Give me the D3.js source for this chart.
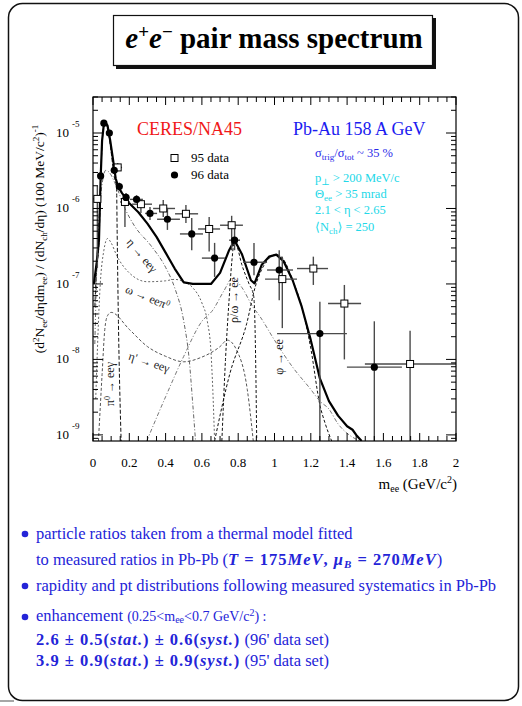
<!DOCTYPE html>
<html>
<head>
<meta charset="utf-8">
<script src="https://cdn.jsdelivr.net/npm/d3@7"></script>
<style>
body { margin: 0; background: #fff; }
svg { display: block; font-family: "Liberation Serif", "DejaVu Serif", serif; }
</style>
</head>
<body>
<svg id="chart" width="522" height="706"></svg>
<script>
// ---- data (mass in GeV/c^2, yield per 100 MeV/c^2) ----
// measured points: [mass, value, massLo, massHi, valueLo, valueHi]
const data96 = [
  [0.042, 2.7e-6, 0.038, 0.046, 2.4e-6, 3.0e-6],
  [0.06, 1.35e-5, 0.056, 0.064, 1.25e-5, 1.45e-5],
  [0.09, 1.0e-5, 0.086, 0.094, 9.3e-6, 1.08e-5],
  [0.117, 3.2e-6, 0.11, 0.124, 2.9e-6, 3.5e-6],
  [0.145, 1.95e-6, 0.135, 0.155, 1.75e-6, 2.2e-6],
  [0.182, 1.4e-6, 0.165, 0.2, 1.2e-6, 1.6e-6],
  [0.24, 1.32e-6, 0.204, 0.275, 1.18e-6, 1.5e-6],
  [0.314, 8.6e-7, 0.287, 0.353, 7.05e-7, 1.05e-6],
  [0.41, 7.2e-7, 0.353, 0.479, 5.2e-7, 1.02e-6],
  [0.544, 4.6e-7, 0.479, 0.606, 2.8e-7, 7.5e-7],
  [0.67, 2.2e-7, 0.6, 0.727, 1.24e-7, 3.5e-7],
  [0.78, 3.8e-7, 0.75, 0.81, 2.8e-7, 5.5e-7],
  [0.887, 1.94e-7, 0.826, 0.959, 1.3e-7, 3.5e-7],
  [1.026, 1.53e-7, 0.959, 1.102, 6.1e-8, 2.8e-7],
  [1.25, 2.2e-8, 1.014, 1.399, 5e-10, 5.8e-8],
  [1.55, 7.9e-9, 1.399, 1.702, 5e-10, 3.2e-8]
];
const data95 = [
  [0.024, 1.34e-6, 0.0, 0.044, 1.63e-7, 2.0e-6],
  [0.136, 3.5e-6, 0.105, 0.16, 3.1e-6, 4.0e-6],
  [0.176, 1.22e-6, 0.149, 0.204, 5.7e-7, 1.5e-6],
  [0.264, 1.14e-6, 0.215, 0.325, 8.7e-7, 1.3e-6],
  [0.387, 1.0e-6, 0.331, 0.452, 7.7e-7, 1.3e-6],
  [0.512, 8.5e-7, 0.452, 0.579, 6.4e-7, 1.11e-6],
  [0.64, 5.35e-7, 0.579, 0.7, 2.7e-7, 7.7e-7],
  [0.764, 6.0e-7, 0.7, 0.826, 2.8e-7, 8.0e-7],
  [1.043, 1.16e-7, 0.948, 1.124, 2.6e-8, 2.3e-7],
  [1.214, 1.6e-7, 1.124, 1.295, 9.7e-8, 2.3e-7],
  [1.385, 5.5e-8, 1.295, 1.477, 1.0e-8, 9.7e-8],
  [1.747, 8.7e-9, 1.498, 2.0, 5e-10, 2.4e-8]
];

// model cocktail: [mass, value]
const totalCurve = [[0.005,1.0e-7],[0.02,1.9e-7],[0.033,3.8e-7],[0.042,2.5e-6],[0.05,7.9e-6],[0.06,1.32e-5],[0.07,1.35e-5],[0.08,1.26e-5],[0.095,7.9e-6],[0.11,4.5e-6],[0.125,2.5e-6],[0.14,1.9e-6],[0.16,1.6e-6],[0.2,1.17e-6],[0.25,8.9e-7],[0.3,6.3e-7],[0.35,4.2e-7],[0.4,2.6e-7],[0.45,1.6e-7],[0.5,1.05e-7],[0.55,1.0e-7],[0.65,1.0e-7],[0.7,1.4e-7],[0.75,2.8e-7],[0.78,3.8e-7],[0.82,2.5e-7],[0.87,1.12e-7],[0.89,1.02e-7],[0.93,1.8e-7],[0.97,2.3e-7],[1.01,2.45e-7],[1.05,2.0e-7],[1.1,1.12e-7],[1.15,5.0e-8],[1.2,1.8e-8],[1.25,5.6e-9],[1.3,2.8e-9],[1.35,1.8e-9],[1.4,1.3e-9],[1.43,1.17e-9],[1.45,1.0e-9],[1.48,8.3e-10]];
const pi0Curve = [[0.01,5e-8],[0.02,1.6e-7],[0.033,3.5e-7],[0.042,2.2e-6],[0.05,7e-6],[0.06,1.2e-5],[0.07,1.26e-5],[0.085,1e-5],[0.1,5.6e-6],[0.115,2.8e-6],[0.13,1.8e-6],[0.133,5e-7],[0.14,3.2e-8],[0.155,8.3e-10]];
const etaCurve = [[0.01,1.6e-8],[0.025,3.2e-7],[0.04,1.26e-6],[0.055,2.5e-6],[0.07,3.2e-6],[0.09,3.0e-6],[0.12,2.2e-6],[0.176,1.0e-6],[0.23,5.8e-7],[0.32,3.2e-7],[0.4,1.66e-7],[0.45,8.9e-8],[0.5,3.2e-8],[0.53,1e-8],[0.55,2.5e-9],[0.565,8.3e-10]];
const omegaDalitzCurve = [[0.015,3e-9],[0.04,1e-7],[0.06,2.8e-7],[0.08,4e-7],[0.1,3.5e-7],[0.13,2.4e-7],[0.2,1.4e-7],[0.3,1.07e-7],[0.4,1.1e-7],[0.45,1.15e-7],[0.5,1.07e-7],[0.55,8.9e-8],[0.6,5.6e-8],[0.63,3.2e-8],[0.65,1.26e-8],[0.66,4e-9],[0.67,8.3e-10]];
const etaPrimeCurve = [[0.03,8.3e-10],[0.05,6.3e-9],[0.065,2.5e-8],[0.08,3.8e-8],[0.1,4.2e-8],[0.2,2.5e-8],[0.3,1.48e-8],[0.4,1.1e-8],[0.5,9.3e-9],[0.59,1.05e-8],[0.7,1.48e-8],[0.74,1.8e-8],[0.79,1.35e-8],[0.85,4e-9],[0.883,8.3e-10]];
const rhoCurve = [[0.296,8.3e-10],[0.4,3.2e-9],[0.5,1.1e-8],[0.6,3.2e-8],[0.66,4.5e-8],[0.72,8e-8],[0.77,1.2e-7],[0.82,9e-8],[0.88,5e-8],[0.92,3.7e-8],[1.0,1.8e-8],[1.1,7.9e-9],[1.2,4e-9],[1.25,2.8e-9],[1.3,2.2e-9],[1.35,1.4e-9],[1.4,1.05e-9],[1.47,8.3e-10]];
const omegaCurve = [[0.71,8.3e-10],[0.73,1e-8],[0.75,6.3e-8],[0.765,2e-7],[0.778,3.5e-7],[0.79,3.3e-7],[0.82,1.8e-7],[0.86,1.0e-7],[0.885,7e-8],[0.893,2.5e-8],[0.898,5e-9],[0.902,8.3e-10]];
const phiCurve = [[0.67,8.3e-10],[0.755,6.6e-9],[0.847,3e-8],[0.893,9e-8],[0.95,1.9e-7],[1.01,2.45e-7],[1.05,2.1e-7],[1.1,1.12e-7],[1.15,5e-8],[1.2,1.4e-8],[1.25,2.5e-9],[1.28,1.4e-9],[1.315,8.3e-10]];

const xTickLabels = ["0", "0.2", "0.4", "0.6", "0.8", "1", "1.2", "1.4", "1.6", "1.8", "2"];
const yDecades = [-9, -8, -7, -6, -5];

const svg = d3.select("#chart");
const pl = 93, pr = 456, pt = 97, pb = 441;

const x = d3.scaleLinear().domain([0, 2]).range([pl, pr]);
const y = d3.scaleLog().domain([8.3e-10, 3.0e-5]).range([pb, pt]);

// outer rounded page frame
svg.append("line").attr("x1", 0).attr("x2", 14).attr("y1", 701).attr("y2", 701)
    .attr("stroke", "#888").attr("stroke-width", 1.5);
svg.append("rect").attr("x", 8.5).attr("y", 3.5).attr("width", 510).attr("height", 697)
    .attr("rx", 14).attr("fill", "none").attr("stroke", "#111").attr("stroke-width", 1.5);

// title box with shadow
svg.append("rect").attr("x", 116).attr("y", 18).attr("width", 320).attr("height", 51).attr("fill", "#111");
svg.append("rect").attr("x", 113.5).attr("y", 15.5).attr("width", 319).attr("height", 50)
    .attr("fill", "#fff").attr("stroke", "#111").attr("stroke-width", 1.2);
const title = svg.append("text").attr("x", 274).attr("y", 48).attr("text-anchor", "middle")
    .attr("font-size", 29).attr("font-weight", "bold").attr("fill", "#000");
title.append("tspan").attr("font-style", "italic").text("e");
title.append("tspan").attr("dy", -10).attr("font-size", 19).text("+");
title.append("tspan").attr("dy", 10).attr("font-style", "italic").text("e");
title.append("tspan").attr("dy", -10).attr("font-size", 19).text("\u2212");
title.append("tspan").attr("dy", 10).text(" pair mass spectrum");

// clip for marks
svg.append("clipPath").attr("id", "plotClip").append("rect")
    .attr("x", pl).attr("y", pt).attr("width", pr - pl).attr("height", pb - pt);
const plot = svg.append("g").attr("clip-path", "url(#plotClip)");

const line = d3.line().x(d => x(d[0])).y(d => y(d[1]));
const smooth = d3.line().x(d => x(d[0])).y(d => y(d[1])).curve(d3.curveMonotoneX);

const components = [
    { pts: pi0Curve, color: "#111", dash: "4,2" },
    { pts: etaCurve, color: "#666", dash: "4,2,1,2" },
    { pts: omegaDalitzCurve, color: "#666", dash: "2,2" },
    { pts: etaPrimeCurve, color: "#555", dash: "3,2" },
    { pts: rhoCurve, color: "#777", dash: "4,2,1,2" },
    { pts: omegaCurve, color: "#111", dash: "3,2" },
    { pts: phiCurve, color: "#111", dash: "3,2" }
];
components.forEach(c => {
    plot.append("path").attr("d", smooth(c.pts)).attr("fill", "none")
        .attr("stroke", c.color).attr("stroke-width", 1).attr("stroke-dasharray", c.dash);
});
plot.append("path").attr("d", line(totalCurve)).attr("fill", "none")
    .attr("stroke", "#000").attr("stroke-width", 2.2).attr("stroke-linejoin", "round");

// error bars
function errorBars(data) {
    const g = plot.append("g").attr("stroke", "#4a4a4a").attr("stroke-width", 1.4);
    g.selectAll(".h").data(data).enter().append("line")
        .attr("x1", d => x(d[2])).attr("x2", d => x(d[3]))
        .attr("y1", d => y(d[1])).attr("y2", d => y(d[1]));
    g.selectAll(".v").data(data).enter().append("line")
        .attr("x1", d => x(d[0])).attr("x2", d => x(d[0]))
        .attr("y1", d => y(d[4])).attr("y2", d => y(d[5]));
}
errorBars(data95);
errorBars(data96);

plot.selectAll(".sq").data(data95).enter().append("rect")
    .attr("x", d => x(d[0]) - 3.5).attr("y", d => y(d[1]) - 3.5)
    .attr("width", 7).attr("height", 7)
    .attr("fill", "#fff").attr("stroke", "#000").attr("stroke-width", 1);
plot.selectAll(".dot").data(data96).enter().append("circle")
    .attr("cx", d => x(d[0])).attr("cy", d => y(d[1])).attr("r", 3.6).attr("fill", "#000");

// frame and ticks (pointing inward)
svg.append("rect").attr("x", pl).attr("y", pt).attr("width", pr - pl).attr("height", pb - pt)
    .attr("fill", "none").attr("stroke", "#000").attr("stroke-width", 1.2);
const ticks = svg.append("g").attr("stroke", "#000").attr("stroke-width", 1);
d3.range(0, 2.0001, 0.05).forEach(v => {
    const major = Math.abs(v / 0.2 - Math.round(v / 0.2)) < 1e-6;
    const len = major ? 8 : 5;
    ticks.append("line").attr("x1", x(v)).attr("x2", x(v)).attr("y1", pb).attr("y2", pb - len);
    ticks.append("line").attr("x1", x(v)).attr("x2", x(v)).attr("y1", pt).attr("y2", pt + len);
});
y.ticks().forEach(v => {
    const m = v / Math.pow(10, Math.floor(Math.log10(v) + 1e-9));
    const major = Math.abs(m - 1) < 1e-6;
    const len = major ? 10 : 5;
    ticks.append("line").attr("x1", pl).attr("x2", pl + len).attr("y1", y(v)).attr("y2", y(v));
    ticks.append("line").attr("x1", pr).attr("x2", pr - len).attr("y1", y(v)).attr("y2", y(v));
});

// tick labels
svg.append("g").selectAll("text").data(xTickLabels).enter().append("text")
    .attr("x", d => x(+d)).attr("y", 467).attr("text-anchor", "middle")
    .attr("font-size", 13).text(d => d);
yDecades.forEach(e => {
    const yy = y(Math.pow(10, e));
    svg.append("text").attr("x", 69).attr("y", yy + 4).attr("text-anchor", "end")
        .attr("font-size", 13).text("10");
    svg.append("text").attr("x", 72).attr("y", yy - 6)
        .attr("font-size", 9).text("-" + Math.abs(e));
});

// axis titles
const xt = svg.append("text").attr("x", 457).attr("y", 489).attr("text-anchor", "end").attr("font-size", 15);
xt.append("tspan").text("m");
xt.append("tspan").attr("dy", 3).attr("font-size", 10).text("ee");
xt.append("tspan").attr("dy", -3).text(" (GeV/c");
xt.append("tspan").attr("dy", -6).attr("font-size", 10).text("2");
xt.append("tspan").attr("dy", 6).text(")");

const yt = svg.append("text").attr("transform", "translate(44,239) rotate(-90)")
    .attr("text-anchor", "middle").attr("font-size", 13.5);
[["(d", 0, 13.5], ["2", -5, 9], ["N", 5, 13.5], ["ee", 3, 9], ["/d\u03b7dm", -3, 13.5], ["ee", 3, 9],
 [") / (dN", -3, 13.5], ["ch", 3, 9], ["/d\u03b7) (100 MeV/c", -3, 13.5], ["2", -5, 9], [")", 5, 13.5], ["-1", -6, 9]]
    .forEach(p => yt.append("tspan").attr("dy", p[1]).attr("font-size", p[2]).text(p[0]));

// labels inside the plot
svg.append("text").attr("x", 137).attr("y", 135).attr("font-size", 18).attr("fill", "#f01818").text("CERES/NA45");
svg.append("text").attr("x", 293).attr("y", 135).attr("font-size", 18).attr("fill", "#1c1cf0").text("Pb-Au 158 A GeV");

svg.append("rect").attr("x", 171).attr("y", 154.5).attr("width", 7).attr("height", 7)
    .attr("fill", "#fff").attr("stroke", "#000");
svg.append("text").attr("x", 191).attr("y", 162).attr("font-size", 13).text("95 data");
svg.append("circle").attr("cx", 174.5).attr("cy", 175).attr("r", 3.6).attr("fill", "#000");
svg.append("text").attr("x", 191).attr("y", 179).attr("font-size", 13).text("96 data");

const sig = svg.append("text").attr("x", 315).attr("y", 157).attr("font-size", 12.5).attr("fill", "#2a2ae8");
sig.append("tspan").text("\u03c3");
sig.append("tspan").attr("dy", 3).attr("font-size", 9).text("trig");
sig.append("tspan").attr("dy", -3).text("/\u03c3");
sig.append("tspan").attr("dy", 3).attr("font-size", 9).text("tot");
sig.append("tspan").attr("dy", -3).text(" ~ 35 %");

const cyan = "#22d8e8";
const c1 = svg.append("text").attr("x", 315).attr("y", 182).attr("font-size", 12.5).attr("fill", cyan);
c1.append("tspan").text("p");
c1.append("tspan").attr("dy", 3).attr("font-size", 9).text("\u22a5");
c1.append("tspan").attr("dy", -3).text(" > 200 MeV/c");
const c2 = svg.append("text").attr("x", 315).attr("y", 198).attr("font-size", 12.5).attr("fill", cyan);
c2.append("tspan").text("\u0398");
c2.append("tspan").attr("dy", 3).attr("font-size", 9).text("ee");
c2.append("tspan").attr("dy", -3).text(" > 35 mrad");
svg.append("text").attr("x", 315).attr("y", 214).attr("font-size", 12.5).attr("fill", cyan)
    .text("2.1 < \u03b7 < 2.65");
const c4 = svg.append("text").attr("x", 315).attr("y", 231).attr("font-size", 12.5).attr("fill", cyan);
c4.append("tspan").text("\u27e8N");
c4.append("tspan").attr("dy", 3).attr("font-size", 9).text("ch");
c4.append("tspan").attr("dy", -3).text("\u27e9 = 250");

// curve annotations
function note(parts, tx, ty, angle) {
    const t = svg.append("text").attr("transform", `translate(${tx},${ty}) rotate(${angle})`)
        .attr("text-anchor", "middle").attr("font-size", 12).attr("fill", "#222");
    parts.forEach(p => t.append("tspan").attr("dy", p[1]).attr("font-size", p[2] || 12).text(p[0]));
}
note([["\u03b7 \u2192 ee\u03b3", 0]], 139, 258, 50);
note([["\u03c9 \u2192 ee\u03c0", 0], ["0", -4, 8]], 146, 301, 22);
note([["\u03b7' \u2192 ee\u03b3", 0]], 148, 366, 18);
note([["\u03c0", 0], ["0", -4, 8], [" \u2192 ee\u03b3", 4]], 114, 384, -90);
note([["\u03c1/\u03c9 \u2192 ee", 0]], 238, 300, -90);
note([["\u03c6 \u2192 ee", 0]], 283, 357, -90);

// bullet text below the chart
const blue = "#2424d8";
function richLine(yy, parts, xx) {
    const t = svg.append("text").attr("x", xx || 36).attr("y", yy).attr("font-size", 16.5).attr("fill", blue);
    parts.forEach(p => {
        const s = t.append("tspan").text(p.t);
        if (p.b) s.attr("font-weight", "bold").attr("letter-spacing", 1);
        if (p.i) s.attr("font-style", "italic");
        if (p.s) s.attr("font-size", p.s);
        if (p.dy) s.attr("dy", p.dy);
    });
}
[534, 586, 617].forEach(b => svg.append("circle").attr("cx", 25).attr("cy", b).attr("r", 3.3).attr("fill", blue));
richLine(539, [{ t: "particle ratios taken from a thermal model fitted" }]);
richLine(565, [{ t: "to measured ratios in Pb-Pb (" },
    { t: "T", b: 1, i: 1 }, { t: " = 175", b: 1 }, { t: "MeV", b: 1, i: 1 }, { t: ", ", b: 1 },
    { t: "\u03bc", b: 1, i: 1 }, { t: "B", b: 1, i: 1, s: 11, dy: 3 }, { t: " = 270", b: 1, dy: -3 },
    { t: "MeV", b: 1, i: 1 }, { t: ")" }]);
richLine(591, [{ t: "rapidity and pt distributions following measured systematics in Pb-Pb" }]);
richLine(621, [{ t: "enhancement " }, { t: "(0.25<m", s: 14 }, { t: "ee", s: 10, dy: 2 },
    { t: "<0.7 GeV/c", s: 14, dy: -2 }, { t: "2", s: 10, dy: -5 }, { t: ") :", s: 14, dy: 5 }]);
richLine(645, [{ t: "2.6 \u00b1 0.5(", b: 1 }, { t: "stat.", b: 1, i: 1 }, { t: ") \u00b1 0.6(", b: 1 },
    { t: "syst.", b: 1, i: 1 }, { t: ")", b: 1 }, { t: " (96' data set)" }]);
richLine(666, [{ t: "3.9 \u00b1 0.9(", b: 1 }, { t: "stat.", b: 1, i: 1 }, { t: ") \u00b1 0.9(", b: 1 },
    { t: "syst.", b: 1, i: 1 }, { t: ")", b: 1 }, { t: " (95' data set)" }]);
</script>
</body>
</html>
